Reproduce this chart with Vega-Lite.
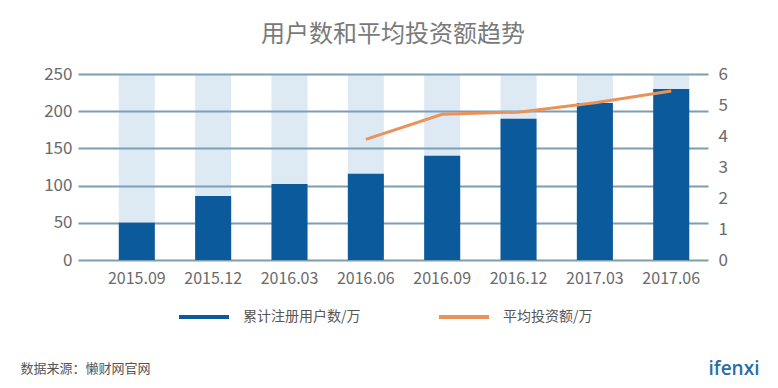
{
  "$schema": "https://vega.github.io/schema/vega-lite/v6.json",
  "width": 630,
  "height": 186,
  "autosize": "none",
  "padding": {"left": 78, "top": 74, "right": 70, "bottom": 128},
  "background": "white",
  "config": {
    "view": {"stroke": null},
    "font": "Noto Sans CJK SC",
    "axis": {"labelFont": "Noto Sans CJK SC", "titleFont": "Noto Sans CJK SC"}
  },
  "title": {
    "text": "用户数和平均投资额趋势",
    "fontSize": 24,
    "fontWeight": "normal",
    "color": "#7a7a7a",
    "font": "Noto Sans CJK SC",
    "offset": 18
  },
  "data": {
    "values": [
      {"month": "2015.09", "users": 50, "avg": null},
      {"month": "2015.12", "users": 86, "avg": null},
      {"month": "2016.03", "users": 102, "avg": null},
      {"month": "2016.06", "users": 116, "avg": 3.89},
      {"month": "2016.09", "users": 140, "avg": 4.70},
      {"month": "2016.12", "users": 190, "avg": 4.77},
      {"month": "2017.03", "users": 211, "avg": 5.07},
      {"month": "2017.06", "users": 230, "avg": 5.45}
    ]
  },
  "encoding": {
    "x": {
      "field": "month",
      "type": "ordinal",
      "sort": null,
      "scale": {"paddingInner": 0.528, "paddingOuter": 0.39, "align": 0.685},
      "axis": {
        "labelAngle": 0,
        "labelFontSize": 16,
        "labelColor": "#6a6a6a",
        "labelPadding": 10,
        "domain": false,
        "ticks": false,
        "title": "数据来源：懒财网官网",
        "titleFontSize": 13,
        "titleFontWeight": "normal",
        "titleColor": "#555555",
        "titleAlign": "left",
        "titleAnchor": "start",
        "titleBaseline": "middle",
        "titleX": -58,
        "titleY": 108
      }
    }
  },
  "layer": [
    {
      "layer": [
        {
          "mark": {"type": "bar", "color": "#77a7cf", "opacity": 0.25},
          "encoding": {
            "y": {
              "datum": 250,
              "type": "quantitative",
              "scale": {"domain": [0, 250], "nice": false},
              "axis": {
                "values": [0, 50, 100, 150, 200, 250],
                "labelOverlap": false,
                "grid": true,
                "gridColor": "#7f9db0",
                "gridWidth": 2,
                "domain": false,
                "ticks": false,
                "labelFontSize": 17,
                "labelColor": "#6a6a6a",
                "labelPadding": 6,
                "title": null
              }
            }
          }
        },
        {
          "mark": {"type": "bar", "color": "#0b62a3"},
          "encoding": {
            "y": {
              "field": "users",
              "type": "quantitative",
              "axis": {
                "values": [0, 50, 100, 150, 200, 250],
                "labelOverlap": false,
                "grid": true,
                "gridColor": "#7f9db0",
                "gridWidth": 2,
                "domain": false,
                "ticks": false,
                "labelFontSize": 17,
                "labelColor": "#6a6a6a",
                "labelPadding": 6,
                "title": null
              }
            },
            "color": {
              "datum": "累计注册用户数/万",
              "scale": {
                "domain": ["累计注册用户数/万", "平均投资额/万"],
                "range": ["#0b5a9c", "#e9935a"]
              },
              "legend": {
                "orient": "none",
                "legendX": 101,
                "legendY": 218,
                "direction": "horizontal",
                "title": null,
                "padding": 0,
                "symbolType": "M-1,-0.08H1V0.08H-1Z",
                "symbolSize": 2500,
                "symbolStrokeWidth": 0,
                "labelFontSize": 14,
                "labelColor": "#555555",
                "labelOffset": 14,
                "columnPadding": 78,
                "encode": {
                  "symbols": {
                    "update": {
                      "fill": {"scale": "color", "field": "value"},
                      "stroke": {"value": "transparent"},
                      "opacity": {"value": 1}
                    }
                  }
                }
              }
            }
          }
        }
      ]
    },
    {
      "mark": {"type": "line", "strokeWidth": 3},
      "encoding": {
        "y": {
          "field": "avg",
          "type": "quantitative",
          "scale": {"domain": [0, 6], "nice": false},
          "axis": {
            "orient": "right",
            "values": [0, 1, 2, 3, 4, 5, 6],
            "labelOverlap": false,
            "grid": false,
            "domain": false,
            "ticks": false,
            "labelFontSize": 17,
            "labelColor": "#6a6a6a",
            "labelPadding": 10,
            "title": "ifenxi",
            "titleAngle": 0,
            "titleAlign": "left",
            "titleBaseline": "middle",
            "titleX": 0,
            "titleY": 294,
            "titleFontSize": 19,
            "titleFont": "Open Sans",
            "titleFontWeight": 600,
            "titleColor": "#2b6ca3"
          }
        },
        "color": {"datum": "平均投资额/万"}
      }
    }
  ],
  "resolve": {"scale": {"y": "independent"}}
}
